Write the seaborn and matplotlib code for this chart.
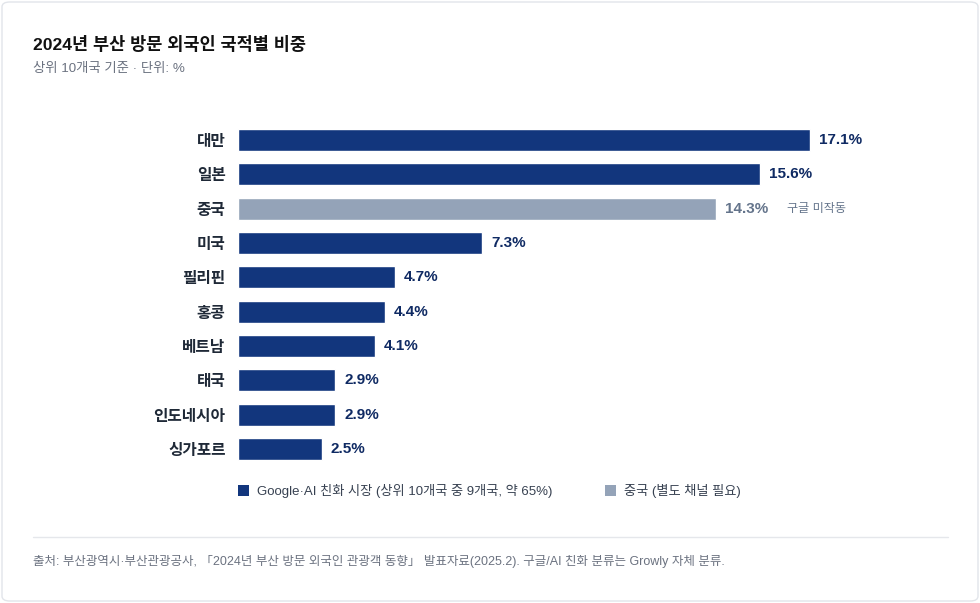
import numpy as np
import pandas as pd
import seaborn as sns
import matplotlib.pyplot as plt
from matplotlib.patches import FancyBboxPatch, Patch
from matplotlib.lines import Line2D

# data
countries = ['대만', '일본', '중국', '미국', '필리핀', '홍콩', '베트남', '태국', '인도네시아', '싱가포르']
shares = [17.1, 15.6, 14.3, 7.3, 4.7, 4.4, 4.1, 2.9, 2.9, 2.5]
groups = ['ai', 'ai', 'china', 'ai', 'ai', 'ai', 'ai', 'ai', 'ai', 'ai']
legend_labels = ['Google·AI 친화 시장 (상위 10개국 중 9개국, 약 65%)', '중국 (별도 채널 필요)']

NAVY = '#12367d'
GRAY = '#94a3b8'
NAVY_TXT = '#0f2a63'
GRAY_TXT = '#64748b'

df = pd.DataFrame({'country': countries, 'share': shares, 'group': groups})

sns.set_theme(style='white')
plt.rcParams['font.family'] = ['Liberation Sans', 'Noto Sans CJK KR', 'DejaVu Sans']

fig = plt.figure(figsize=(9.8, 6.03), dpi=100)
fig.patch.set_facecolor('white')

# card border
card = FancyBboxPatch((2 / 980, 2 / 603), 976 / 980, 599 / 603,
                      boxstyle='round,pad=0,rounding_size=0.008',
                      transform=fig.transFigure, facecolor='white',
                      edgecolor='#e2e5ea', linewidth=1.0, zorder=-10)
fig.patches.append(card)

ax = fig.add_axes([238 / 980, (603 - 466) / 603, (940 - 238) / 980, 343 / 603])
ax.set_zorder(2)
ax.set_facecolor('none')
sns.barplot(data=df, x='share', y='country', hue='group',
            palette={'ai': NAVY, 'china': GRAY}, dodge=False,
            width=0.64, legend=False, ax=ax, saturation=1)

ax.set_xlim(0, (940 - 238) / (572 / 17.1))
ax.set_ylim(9.5, -0.5)
ax.set_xlabel('')
ax.set_ylabel('')
ax.set_xticks([])
for s in ax.spines.values():
    s.set_visible(False)
ax.tick_params(axis='y', length=0, pad=9)
for lab in ax.get_yticklabels():
    lab.set_fontsize(11.3)
    lab.set_fontweight('bold')
    lab.set_color('#1f2937')

# value labels
for i, (v, g) in enumerate(zip(shares, groups)):
    col = NAVY_TXT if g == 'ai' else GRAY_TXT
    ax.annotate(f'{v}%', xy=(v, i), xytext=(6.5, 0), textcoords='offset points',
                va='center', ha='left', fontsize=11, fontweight='bold', color=col)
    if g == 'china':
        ax.annotate('구글 미작동', xy=(v, i), xytext=(51, 0), textcoords='offset points',
                    va='center', ha='left', fontsize=8.7, color=GRAY_TXT)

# title / subtitle
fig.text(33 / 980, 1 - 44 / 603, '2024년 부산 방문 외국인 국적별 비중', fontsize=12.6,
         fontweight='bold', color='#111111', va='center', ha='left')
fig.text(33 / 980, 1 - 69 / 603, '상위 10개국 기준 · 단위: %', fontsize=9.6,
         color='#6b7280', va='center', ha='left')

# legend
handles = [Patch(facecolor=NAVY, edgecolor='none'), Patch(facecolor=GRAY, edgecolor='none')]
fig.legend(handles, legend_labels, loc='center left',
           bbox_to_anchor=(226 / 980, 1 - 491 / 603), ncol=2, frameon=False,
           fontsize=9.5, handlelength=0.85, handleheight=0.85, handletextpad=0.6,
           columnspacing=3.95, labelcolor='#374151')

# footer
fig.add_artist(Line2D([33 / 980, 948 / 980], [1 - 537 / 603, 1 - 537 / 603],
                      transform=fig.transFigure, color='#e5e7eb', linewidth=1))
fig.text(33 / 980, 1 - 561 / 603,
         '출처: 부산광역시·부산관광공사, 「2024년 부산 방문 외국인 관광객 동향」 발표자료(2025.2). 구글/AI 친화 분류는 Growly 자체 분류.',
         fontsize=9.0, color='#6b7280', va='center', ha='left')

fig.savefig('out.png', dpi=100)
